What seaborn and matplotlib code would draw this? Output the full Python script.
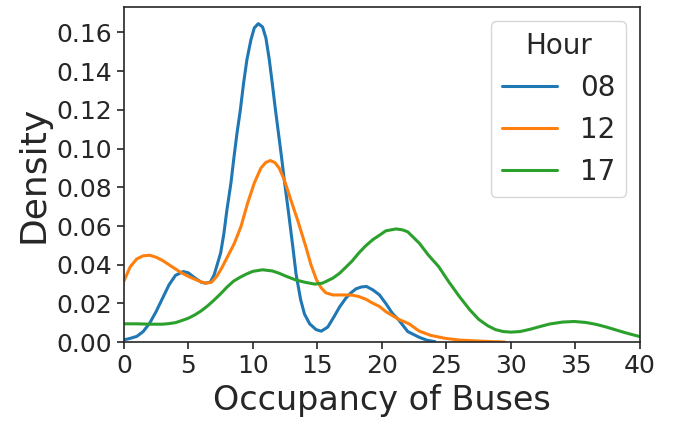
import numpy as np
import pandas as pd
import matplotlib
matplotlib.use("Agg")
import matplotlib.pyplot as plt
import seaborn as sns

hours = ["08", "12", "17"]

x_08 = [0, 0.5, 1, 1.5, 2, 2.5, 3, 3.5, 4, 4.6, 5, 5.5, 6, 6.3, 6.7, 7, 7.5, 7.75, 7.99,
        8.3, 8.51, 8.77, 9.03, 9.28, 9.54, 9.85, 10.11, 10.42, 10.75, 11.01, 11.27, 11.5,
        11.73, 12.02, 12.25, 12.43, 12.8, 13.1, 13.35, 13.7, 14.0, 14.4, 14.9, 15.3, 15.8,
        16.3, 16.7, 17.2, 17.6, 18.0, 18.4, 18.8, 19.3, 19.8, 20.3, 20.8, 21.3, 22.0, 22.9,
        23.5, 24.1]
d_08 = [0.0012, 0.002, 0.003, 0.0055, 0.0098, 0.0158, 0.0227, 0.0296, 0.0345, 0.0365, 0.0358,
        0.0332, 0.031, 0.0305, 0.031, 0.0348, 0.046, 0.056, 0.0684,
        0.0822, 0.0942, 0.108, 0.120, 0.1338, 0.146, 0.1562, 0.1623, 0.1645, 0.1628, 0.1571,
        0.146, 0.1338, 0.121, 0.106, 0.094, 0.0839, 0.065, 0.049, 0.035, 0.022, 0.0145,
        0.0095, 0.0065, 0.0057, 0.0078, 0.0133, 0.018, 0.0227, 0.0255, 0.0276, 0.0285, 0.0288,
        0.027, 0.0245, 0.020, 0.015, 0.0115, 0.0055, 0.0025, 0.001, 0.0003]

x_12 = [0, 0.5, 1, 1.5, 2, 2.5, 3, 3.5, 4, 4.5, 5, 5.5, 6, 6.4, 6.8, 7.2, 7.6, 8, 8.56, 9.08,
        9.59, 10.11, 10.62, 11.0, 11.35, 11.7, 12.04, 12.43, 12.94, 13.46, 14.1, 14.5, 14.93,
        15.3, 15.65, 16.2, 17.2, 17.7, 18.2, 18.75, 19.3, 19.8, 20.3, 21.3, 22.1, 22.9, 23.8,
        24.9, 26, 27.5, 28.5, 29.5]
d_12 = [0.0315, 0.039, 0.043, 0.0446, 0.0449, 0.0439, 0.0422, 0.040, 0.0378, 0.0357, 0.034,
        0.0325, 0.0311, 0.0305, 0.031, 0.034, 0.0385, 0.0437, 0.051, 0.0598,
        0.0718, 0.0822, 0.0899, 0.0928, 0.0938, 0.0928, 0.0899, 0.0839, 0.0735, 0.0632, 0.0494,
        0.040, 0.0322, 0.028, 0.0255, 0.0244, 0.0244, 0.0243, 0.0236, 0.0222, 0.0201, 0.0185,
        0.0158, 0.0118, 0.0095, 0.0057, 0.0035, 0.002, 0.0011, 0.0006, 0.0003, 0.0001]

x_17 = [0, 1, 2, 3, 3.5, 4, 4.5, 5, 5.5, 6, 6.5, 7, 7.5, 8, 8.5, 9, 9.5, 10, 10.75, 11.5, 12.0,
        12.6, 13.3, 14.0, 14.8, 15.4, 16.2, 16.7, 17.2, 17.7, 18.2, 18.7, 19.3, 19.8, 20.3, 21.1,
        21.6, 22.0, 22.9, 23.6, 24.4, 25.2, 26.0, 26.8, 27.5, 28.2, 28.8, 29.4, 30.0, 30.7, 31.5,
        32.2, 33.0, 34.0, 34.9, 35.8, 36.6, 37.3, 38.0, 38.8, 39.75, 40.0]
d_17 = [0.0095, 0.0095, 0.0093, 0.0093, 0.0096, 0.0101, 0.0112, 0.0124, 0.0141, 0.0162, 0.0188,
        0.0218, 0.025, 0.0285, 0.0315, 0.0335, 0.0352, 0.0366, 0.0374, 0.0368, 0.0357,
        0.034, 0.0322, 0.031, 0.030, 0.0305, 0.0331, 0.0355, 0.0387, 0.042, 0.046, 0.0495, 0.053,
        0.0552, 0.0575, 0.0585, 0.058, 0.057, 0.0511, 0.045, 0.039, 0.031, 0.0236, 0.0168,
        0.0118, 0.0085, 0.0065, 0.0055, 0.0052, 0.0055, 0.0067, 0.008, 0.0094, 0.0104, 0.0107,
        0.0102, 0.0092, 0.008, 0.0066, 0.005, 0.0033, 0.0029]

frames = []
for h, xs, ds in zip(hours, [x_08, x_12, x_17], [d_08, d_12, d_17]):
    frames.append(pd.DataFrame({"Occupancy": xs, "Density": ds, "Hour": h}))
df = pd.concat(frames, ignore_index=True)

sns.set_theme(style="ticks")
plt.rcParams["font.family"] = ["DejaVu Sans"]

fig, ax = plt.subplots(figsize=(6.73, 4.23), dpi=100)
fig.subplots_adjust(left=0.184, right=0.951, top=0.983, bottom=0.191)

sns.lineplot(data=df, x="Occupancy", y="Density", hue="Hour", hue_order=hours,
             palette=sns.color_palette("tab10", 3), linewidth=2.2, sort=False,
             estimator=None, ax=ax)

ax.set_xlim(0, 40)
ax.set_ylim(0, 0.173)
ax.set_xticks([0, 5, 10, 15, 20, 25, 30, 35, 40])
ax.set_yticks([0, 0.02, 0.04, 0.06, 0.08, 0.10, 0.12, 0.14, 0.16])
ax.set_yticklabels([f"{v:.2f}" for v in [0, 0.02, 0.04, 0.06, 0.08, 0.10, 0.12, 0.14, 0.16]])
ax.tick_params(axis="both", labelsize=18, length=5, width=1.2)
ax.set_xlabel("Occupancy of Buses", fontsize=24)
ax.set_ylabel("Density", fontsize=26)
for s in ax.spines.values():
    s.set_linewidth(1.2)

sns.move_legend(ax, "upper right", title="Hour", fontsize=20, title_fontsize=20,
                frameon=True)

fig.savefig("out.png", dpi=100)
